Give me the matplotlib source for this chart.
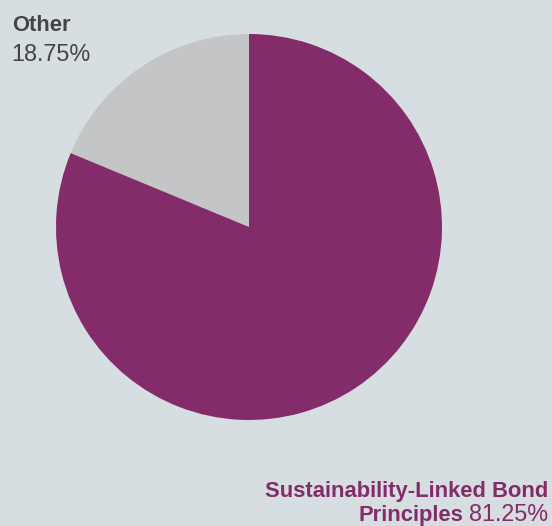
import matplotlib.pyplot as plt

labels = ['Other', 'Sustainability-Linked Bond Principles']
values = [18.75, 81.25]
colors = ['#c4c5c7', '#842b6a']

bg = '#d6dee1'
W, H = 552, 526
fig = plt.figure(figsize=(W / 100, H / 100), dpi=100, facecolor=bg)

# pie centre ~(249, 227) px, radius ~193 px
cx, cy, r = 249, 227, 193
ax = fig.add_axes([(cx - r) / W, 1 - (cy + r) / H, 2 * r / W, 2 * r / H])
ax.pie(values, colors=colors, startangle=90, counterclock=True,
       wedgeprops=dict(linewidth=0))
ax.set_xlim(-1, 1)
ax.set_ylim(-1, 1)
ax.set_aspect('equal')
ax.axis('off')

plt.rcParams['font.family'] = ['Liberation Sans', 'DejaVu Sans']
fb = 15.8   # bold
fr = 16.8   # regular
grey = '#444444'

fig.text(12 / W, 1 - 31 / H, labels[0], ha='left', va='baseline',
         fontsize=fb, fontweight='bold', color=grey)
fig.text(11 / W, 1 - 61 / H, f'{values[0]:.2f}%', ha='left', va='baseline',
         fontsize=fr, color=grey)

purple = colors[1]
fig.text(548 / W, 1 - 497 / H, 'Sustainability-Linked Bond', ha='right',
         va='baseline', fontsize=fb, fontweight='bold', color=purple)
pct = fig.text(548 / W, 1 - 521 / H, f'{values[1]:.2f}%', ha='right',
               va='baseline', fontsize=fr, color=purple)
rend = fig.canvas.get_renderer()
bb = pct.get_window_extent(renderer=rend)
fig.text((bb.x0 - 5) / W, 1 - 521 / H, 'Principles', ha='right',
         va='baseline', fontsize=fb, fontweight='bold', color=purple)

fig.savefig('out.png', dpi=100, facecolor=bg)
